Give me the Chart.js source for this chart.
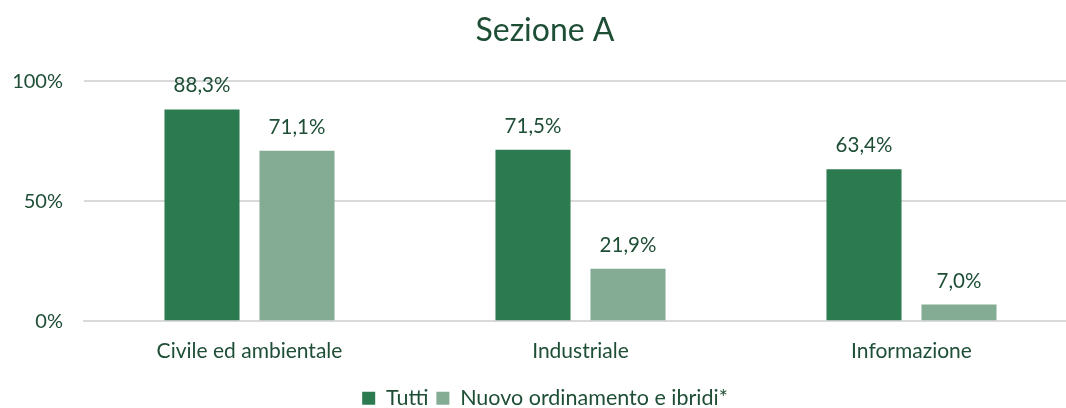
<!DOCTYPE html>
<html>
<head>
<meta charset="utf-8">
<script src="https://cdn.jsdelivr.net/npm/chart.js@4/dist/chart.umd.min.js"></script>
<style>
  html, body { margin: 0; padding: 0; background: #fff; overflow: hidden; }
  #wrap { width: 1066px; height: 408px; overflow: hidden; }
</style>
</head>
<body>
<div id="wrap"><canvas id="chart" width="1077" height="419"></canvas></div>
<script>
const categories = ['Civile ed ambientale', 'Industriale', 'Informazione'];
const tutti = [88.3, 71.5, 63.4];
const nuovo = [71.1, 21.9, 7.0];
const seriesNames = ['Tutti', 'Nuovo ordinamento e ibridi*'];
const yTicks = [0, 50, 100];

const textColor = '#1e4e35';
const fontFamily = 'Lato, "Open Sans", sans-serif';

// etichette sopra le barre
const barLabels = {
    id: 'barLabels',
    afterDatasetsDraw(chart) {
        const ctx = chart.ctx;
        ctx.save();
        ctx.fillStyle = textColor;
        ctx.font = '20.5px ' + fontFamily;
        ctx.textAlign = 'center';
        ctx.textBaseline = 'alphabetic';
        chart.data.datasets.forEach((ds, i) => {
            chart.getDatasetMeta(i).data.forEach((bar, j) => {
                const txt = ds.data[j].toFixed(1).replace('.', ',') + '%';
                ctx.fillText(txt, bar.x, bar.y - 17);
            });
        });
        ctx.restore();
    }
};

const ctx = document.getElementById('chart').getContext('2d');
new Chart(ctx, {
    type: 'bar',
    data: {
        labels: categories,
        datasets: [{
            label: seriesNames[0],
            data: tutti,
            backgroundColor: '#2b7a50',
            barPercentage: 0.79,
            categoryPercentage: 0.574
        }, {
            label: seriesNames[1],
            data: nuovo,
            backgroundColor: '#84ab94',
            barPercentage: 0.79,
            categoryPercentage: 0.574
        }]
    },
    options: {
        responsive: false,
        animation: false,
        layout: { padding: { left: 13, right: 0, top: 0, bottom: 0 } },
        plugins: {
            title: {
                display: true,
                text: 'Sezione A',
                color: textColor,
                font: { family: fontFamily, size: 32, weight: 'normal' },
                padding: { top: 11, bottom: 32 }
            },
            legend: {
                position: 'bottom',
                labels: {
                    color: textColor,
                    font: { family: fontFamily, size: 21.5 },
                    boxWidth: 13,
                    boxHeight: 13,
                    padding: 8
                }
            },
            tooltip: { enabled: false }
        },
        scales: {
            x: {
                afterFit: axis => { axis.height += 7; },
                grid: { display: false },
                border: { color: '#d9d9d9', width: 2 },
                ticks: {
                    color: textColor,
                    font: { family: fontFamily, size: 21 },
                    padding: 9
                }
            },
            y: {
                min: 0,
                max: 100,
                afterBuildTicks: axis => { axis.ticks = yTicks.map(v => ({ value: v })); },
                afterFit: axis => { axis.width = 71; },
                grid: { color: '#d9d9d9', lineWidth: 2, drawTicks: false },
                border: { display: false },
                ticks: {
                    color: textColor,
                    font: { family: fontFamily, size: 20 },
                    padding: 21,
                    callback: v => v + '%'
                }
            }
        }
    },
    plugins: [barLabels]
});
</script>
</body>
</html>
